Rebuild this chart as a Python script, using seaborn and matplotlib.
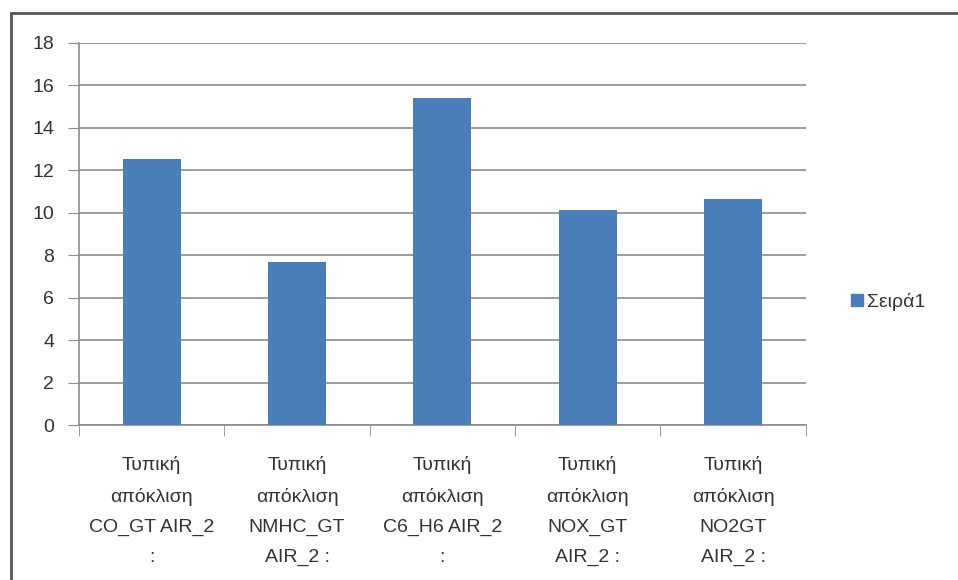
import matplotlib
matplotlib.use("Agg")
import matplotlib.pyplot as plt
import matplotlib.patches as mpatches
import seaborn as sns
import pandas as pd

categories = [
    "Τυπική\nαπόκλιση\nCO_GT AIR_2\n:",
    "Τυπική\nαπόκλιση\nNMHC_GT\nAIR_2 :",
    "Τυπική\nαπόκλιση\nC6_H6 AIR_2\n:",
    "Τυπική\nαπόκλιση\nNOX_GT\nAIR_2 :",
    "Τυπική\nαπόκλιση\nNO2GT\nAIR_2 :",
]
values = [12.55, 7.7, 15.4, 10.15, 10.65]
series_name = "Σειρά1"

sns.set_style("white")
plt.rcParams['font.family'] = ['Liberation Sans', 'DejaVu Sans']

df = pd.DataFrame({"cat": categories, "val": values})

fig = plt.figure(figsize=(9.58, 5.8), dpi=100)
ax = fig.add_axes([0.0825, 0.267, 0.7585, 0.659])

sns.barplot(data=df, x="cat", y="val", color="#4a7ebb", width=0.4,
            saturation=1, ax=ax, linewidth=0, zorder=3)

ax.set_ylim(0, 18)
ax.set_yticks(range(0, 19, 2))
ax.set_xlim(-0.5, 4.5)
ax.yaxis.grid(True, color="#8c8c8c", linewidth=1.2, zorder=0)
ax.set_xlabel("")
ax.set_ylabel("")

for s in ["top", "right"]:
    ax.spines[s].set_visible(False)
ax.spines["left"].set_color("#8c8c8c")
ax.spines["bottom"].set_color("#8c8c8c")
ax.spines["left"].set_linewidth(1.2)
ax.spines["bottom"].set_linewidth(1.2)

ax.tick_params(axis="y", length=8, color="#8c8c8c", labelsize=14,
               labelcolor="#333333", pad=10, left=True)
ax.tick_params(axis="x", which="major", length=0, labelsize=14,
               labelcolor="#333333", pad=22)
ax.set_xticks([-0.5, 0.5, 1.5, 2.5, 3.5, 4.5], minor=True)
ax.tick_params(axis="x", which="minor", length=8, color="#8c8c8c", bottom=True)
for t in ax.get_xticklabels():
    t.set_linespacing(2.0)

leg = fig.legend(handles=[mpatches.Patch(color="#4a7ebb", label=series_name)],
                 loc="center left", bbox_to_anchor=(0.87, 0.48),
                 frameon=False, fontsize=14, handlelength=0.6,
                 handleheight=0.6, handletextpad=0.2)
for t in leg.get_texts():
    t.set_color("#333333")

# outer chart border
fig.patches.append(mpatches.Rectangle((0.011, -0.01), 0.995, 0.987,
                                      transform=fig.transFigure, fill=False,
                                      edgecolor="#555555", linewidth=2))

fig.savefig("out.png", dpi=100)
